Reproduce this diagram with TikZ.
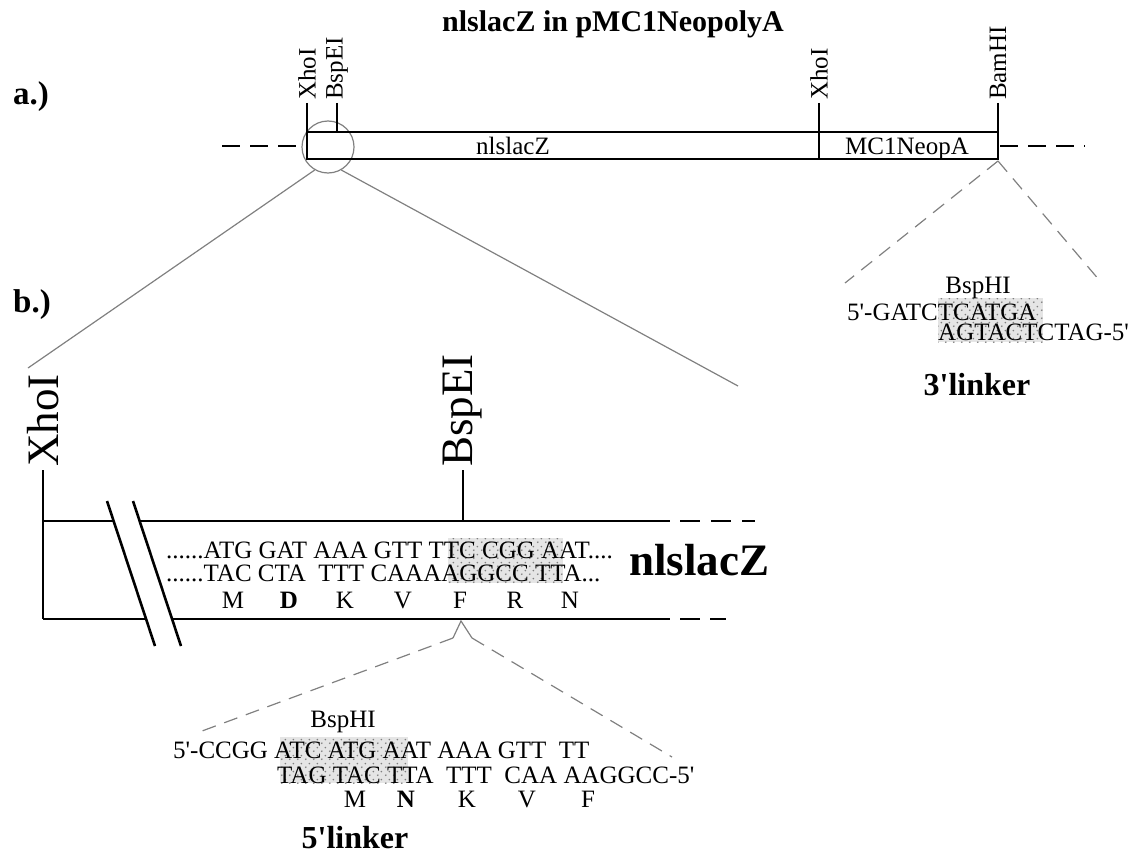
\documentclass[tikz,border=0pt]{standalone}
\usepackage{fontspec}
\setmainfont{Liberation Serif}
\usetikzlibrary{positioning,patterns.meta}

\tikzdeclarepattern{
  name=seqdots, type=uncolored,
  bounding box={(0pt,0pt) and (8pt,8pt)},
  tile size={(8pt,8pt)},
  code={\fill (2pt,2pt) circle (1pt); \fill (6pt,6pt) circle (1pt);}
}
\newcommand{\fsz}[1]{\fontsize{#1}{#1}\selectfont}
\newcommand{\prm}{\textquotesingle}

\begin{document}
\begin{tikzpicture}[x=1pt, y=-1pt,
    seq/.style={font=\fsz{25}, inner sep=0pt},
    site/.style={font=\fsz{25}, rotate=90, anchor=west, inner sep=1pt},
    bigsite/.style={font=\fsz{45}, rotate=90, anchor=west, inner sep=1pt},
    part/.style={font=\bfseries\fsz{33}, inner sep=0pt, anchor=west},
    dna/.style={line width=2.6pt},
    zoomline/.style={gray, line width=1.2pt},
    linkline/.style={gray, line width=1.2pt, dash pattern=on 14pt off 9pt},
    shade/.style={fill=gray!20, postaction={pattern=seqdots, pattern color=gray}}]
\useasboundingbox (0,0) rectangle (1147,864);

% a.) plasmid overview
\node[font=\bfseries\fsz{30}] (title) at (613,24) {nlslacZ in pMC1NeopolyA};
\node[part] (parta) at (13,97) {a.)};
\node[circle, draw=gray, line width=1.2pt, minimum size=52pt, inner sep=0pt] (loupe) at (328,147) {};
\draw[dna] (307,132) rectangle (998,159);
\draw[dna] (819,132) -- (819,159);
\node[font=\fsz{25}, anchor=base] (barlacz) at (513,154) {nlslacZ};
\node[font=\fsz{25}, anchor=base] (barneo) at (907,154) {MC1NeopA};
\foreach \x/\name in {307/XhoI, 337/BspEI, 819/XhoI, 998/BamHI} {
  \draw[line width=2pt] (\x,103) -- (\x,132);
  \node[site] (top\x) at (\x,101) {\name};
}
\draw[line width=2.4pt, dash pattern=on 18pt off 10pt] (222,146) -- (306,146);
\draw[line width=2.4pt, dash pattern=on 18pt off 10pt] (1000,146) -- (1085,146);

% zoom onto the 5' end
\node[part] (partb) at (13,305) {b.)};
\coordinate (zl) at (28,368);
\coordinate (zr) at (738,386);
\draw[zoomline] (loupe.240) -- (zl);
\draw[zoomline] (loupe.300) -- (zr);

% shaded BspEI site
\fill[shade] (448,538) rectangle (563,583);

% b.) 5' end of nlslacZ
\draw[dna] (43,470) -- (43,619);
\draw[dna] (43,521) -- (113,521);
\draw[dna] (139,521) -- (670,521);
\draw[dna, dash pattern=on 20pt off 11pt] (680,521) -- (755,521);
\draw[dna] (43,619) -- (146,619);
\draw[dna] (172,619) -- (670,619);
\draw[dna, dash pattern=on 20pt off 10pt] (680,619) -- (726,619);
\draw[dna] (107,501) -- (155,646);
\draw[dna] (133,501) -- (181,646);
\draw[dna] (463,470) -- (463,521);
\node[bigsite] (xho) at (43,468) {XhoI};
\node[bigsite] (bspe) at (463,468) {BspEI};

\node[seq, anchor=base west] (top1) at (166,558) {......ATG GAT AAA GTT TTC CGG AAT....};
\node[seq, anchor=base west] (bot1) at (166,581) {......TAC CTA\ \ TTT CAAAAGGCC TTA...};
\foreach \x/\aa in {233/M, 289/\textbf{D}, 345/K, 403/V, 460/F, 515/R, 570/N}
  \node[seq, anchor=base] (aa\x) at (\x,608) {\aa};
\node[font=\bfseries\fsz{45}, inner sep=0pt, anchor=base west] (lacz) at (629,575) {nlslacZ};

% 5' linker
\coordinate (capF) at (461,621);
\coordinate (capl) at (453,638);
\coordinate (capr) at (472,638);
\coordinate (linkl) at (202,731);
\coordinate (linkr) at (672,757);
\draw[zoomline] (capl) -- (capF) -- (capr);
\draw[linkline] (capl) -- (linkl);
\draw[linkline] (capr) -- (linkr);

\fill[shade] (280,737) rectangle (408,783);
\node[seq, anchor=base] (bsph5) at (343,727) {BspHI};
\node[seq, anchor=base west] (lnk5a) at (173,758) {5\prm-CCGG ATC ATG AAT AAA GTT\ \ TT};
\node[seq, anchor=base west] (lnk5b) at (277,783) {TAG TAC TTA\ \ TTT\ \ CAA AAGGCC-5\prm};
\foreach \x/\aa in {355/M, 406/\textbf{N}, 467/K, 527/V, 588/F}
  \node[seq, anchor=base] (la\x) at (\x,807) {\aa};
\node[font=\bfseries\fsz{32}, inner sep=0pt, anchor=base] (name5) at (355,848) {5\prm linker};

% 3' linker
\coordinate (bamhi) at (998,161);
\coordinate (link3l) at (845,283);
\coordinate (link3r) at (1100,281);
\draw[linkline] (bamhi) -- (link3l);
\draw[linkline] (bamhi) -- (link3r);

\fill[shade] (938,298) rectangle (1043,342);
\node[seq, anchor=base] (bsph3) at (978,293) {BspHI};
\node[seq, anchor=base west] (lnk3a) at (847,320) {5\prm-GATCTCATGA};
\node[seq, anchor=base west] (lnk3b) at (938,340) {AGTACTCTAG-5\prm};
\node[font=\bfseries\fsz{32}, inner sep=0pt, anchor=base] (name3) at (977,395) {3\prm linker};
\end{tikzpicture}
\end{document}
